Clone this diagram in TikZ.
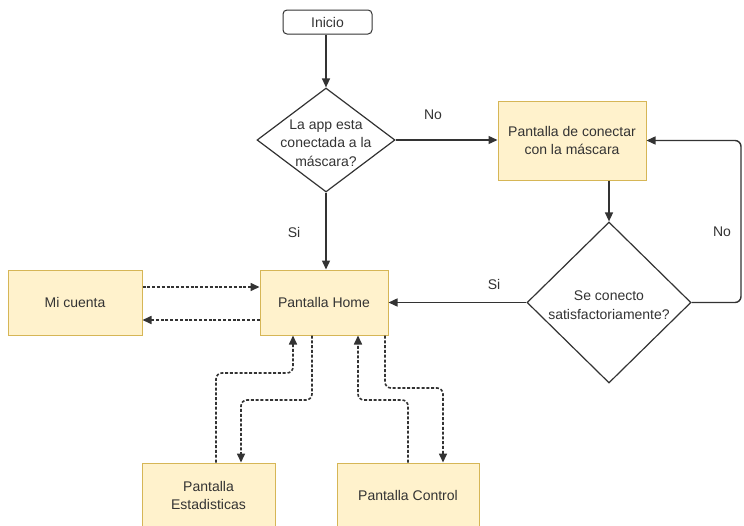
\documentclass[tikz,border=0pt]{standalone}
\usepackage{fontspec}
\setmainfont{Liberation Sans}
\usetikzlibrary{shapes.geometric,arrows.meta}
\definecolor{boxfill}{HTML}{FFF2CC}
\definecolor{boxline}{HTML}{D6B656}
\definecolor{ink}{HTML}{333333}
\tikzset{
  ybox/.style={draw=boxline, fill=boxfill, line width=1pt, inner sep=0pt, align=center, text=ink, font=\fontsize{14}{18.5}\selectfont},
  dia/.style={draw=ink, fill=white, shape=diamond, line width=1.2pt, inner sep=0pt},
  diatext/.style={align=center, text=ink, font=\fontsize{14}{18.5}\selectfont},
  lbl/.style={text=ink, font=\fontsize{14}{16}\selectfont},
  conn/.style={draw=ink, line width=1.4pt, -{Triangle[length=9pt,width=8pt]}},
  dconn/.style={draw=ink, line width=1.6pt, dash pattern=on 3pt off 1.8pt, rounded corners=6pt, -{Triangle[length=9pt,width=8pt]}}
}
\begin{document}
\begin{tikzpicture}[x=1pt,y=-1pt]
\useasboundingbox (0,0) rectangle (744,525);
\fill[white] (0,0) rectangle (744,525);
\begin{scope}
\clip (0,0) rectangle (744,525);
% nodes
\node[draw=ink, fill=white, rounded corners=4pt, line width=1pt, minimum width=89pt, minimum height=24pt, inner sep=0pt, text=ink, font=\fontsize{14}{16}\selectfont] (ini) at (327.5,22) {Inicio};
\node[dia, minimum width=138pt, minimum height=104pt] (d1) at (326,140) {};
\node[diatext] at (326,143) {La app esta\\conectada a la\\máscara?};
\node[ybox, minimum width=148pt, minimum height=79pt] (pc) at (572,140.5) {Pantalla de conectar\\con la máscara};
\node[dia, minimum width=164pt, minimum height=161pt] (d2) at (609,302.5) {};
\node[diatext] at (609,305) {Se conecto\\satisfactoriamente?};
\node[ybox, minimum width=128pt, minimum height=65pt] (home) at (324,302.5) {Pantalla Home};
\node[ybox, minimum width=134pt, minimum height=65pt] (mi) at (75,302.5) {Mi cuenta};
\node[ybox, minimum width=133pt, minimum height=65pt] (est) at (208.5,495.5) {Pantalla\\Estadisticas};
\node[ybox, minimum width=142pt, minimum height=65pt] (ctl) at (408,495.5) {Pantalla Control};
% labels
\node[lbl] at (433,115) {No};
\node[lbl] at (294,232) {Si};
\node[lbl] at (494,284) {Si};
\node[lbl] at (722,232) {No};
% solid connectors
\draw[conn] (ini.south -| d1.north) -- (d1.north);
\draw[conn] (d1.east) -- (d1.east -| pc.west);
\draw[conn] (d1.south) -- (d1.south |- home.north);
\draw[conn] (d2.north |- pc.south) -- (d2.north);
\draw[conn] (d2.west) -- (home.east);
\coordinate (lr) at (741,302.5);
\coordinate (ur) at (741,140.5);
\draw[conn, rounded corners=6pt] (d2.east) -- (lr) -- (ur) -- (pc.east);
% dotted connectors
\coordinate (m1) at (0,287);
\coordinate (m2) at (0,320);
\draw[dconn] (mi.east |- m1) -- (home.west |- m1);
\draw[dconn] (home.west |- m2) -- (mi.east |- m2);
\coordinate (a1) at (216,373);
\coordinate (a2) at (293,373);
\draw[dconn] (est.north -| a1) -- (a1) -- (a2) -- (home.south -| a2);
\coordinate (b1) at (312,400);
\coordinate (b2) at (241,400);
\draw[dconn] (home.south -| b1) -- (b1) -- (b2) -- (est.north -| b2);
\coordinate (c1) at (408,400);
\coordinate (c2) at (358,400);
\draw[dconn] (ctl.north -| c1) -- (c1) -- (c2) -- (home.south -| c2);
\coordinate (e1) at (385,388);
\coordinate (e2) at (443,388);
\draw[dconn] (home.south -| e1) -- (e1) -- (e2) -- (ctl.north -| e2);
\end{scope}
\end{tikzpicture}
\end{document}
